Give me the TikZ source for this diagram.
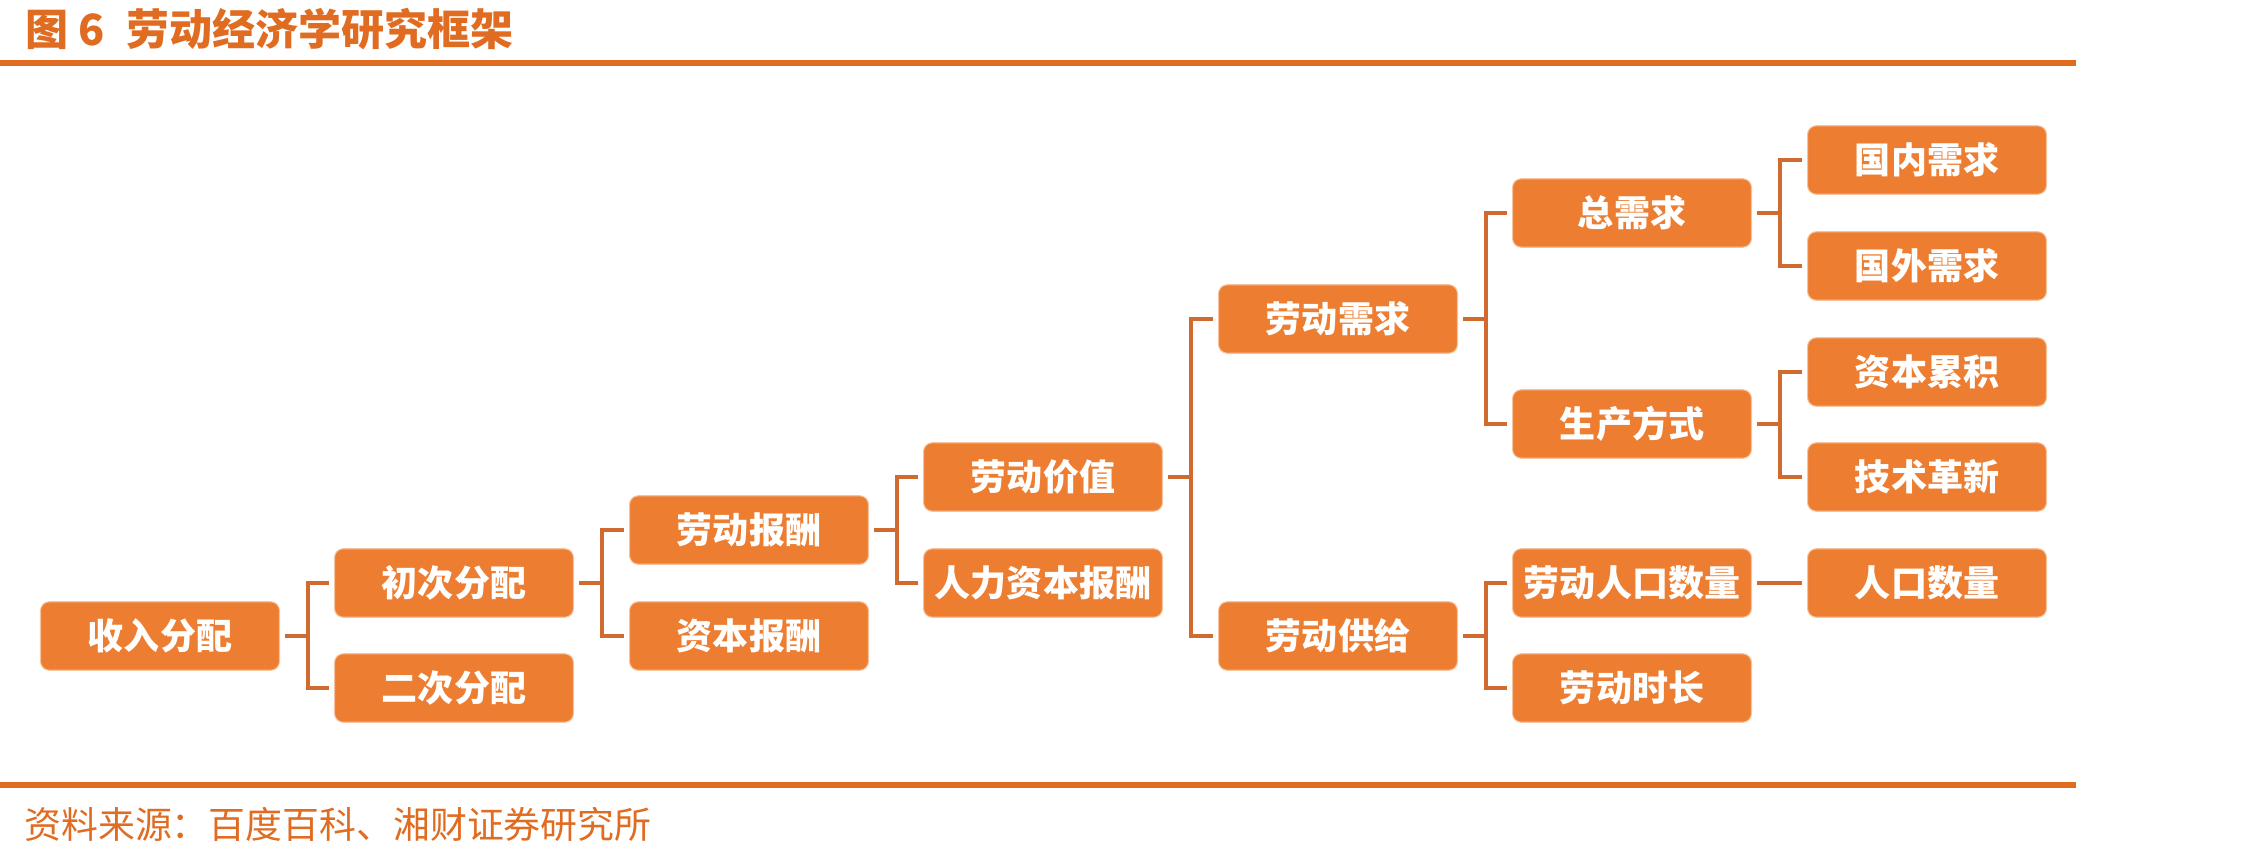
\documentclass[tikz,border=0pt]{standalone}
\usepackage{fontspec}
\newfontfamily\cjk{Noto Sans CJK SC}
\definecolor{boxorange}{HTML}{ED7D31}
\definecolor{linkorange}{HTML}{D06A2E}
\definecolor{titleorange}{HTML}{E06C22}
\definecolor{edgeorange}{HTML}{F6C29C}

\begin{document}
\begin{tikzpicture}[x=0.02cm, y=-0.02cm,
  box/.style={draw=edgeorange, line width=0.6pt, fill=boxorange, rounded corners=5pt,
    minimum width=4.78cm, minimum height=1.37cm, inner sep=0pt, text=white,
    font=\cjk\bfseries\fontsize{20.5}{24}\selectfont},
  link/.style={draw=linkorange, line width=2.4pt, shorten <=3pt, shorten >=3pt},
  rulebar/.style={draw=titleorange, line width=3.4pt}]

\useasboundingbox ( 0, 0 ) rectangle ( 2245, 853 );

% Title and rules
\node (title) at ( 25, 29 ) [anchor=west, inner sep=0pt, text=titleorange,
  font=\cjk\bfseries\fontsize{24.5}{28}\selectfont] {图 6\hspace{7pt} 劳动经济学研究框架};
\draw [rulebar] ( 0, 63 ) -- ( 2076, 63 );
\draw [rulebar] ( 0, 785 ) -- ( 2076, 785 );
\node (source) at ( 24, 824 ) [anchor=west, inner sep=0pt, text=titleorange,
  font=\cjk\fontsize{21}{25}\selectfont] {资料来源：百度百科、湘财证券研究所};

% Income distribution
\node (inc) at ( 160, 636 ) [box] {收入分配};
\node (pri) at ( 454, 583 ) [box] {初次分配};
\node (sec) at ( 454, 688 ) [box] {二次分配};

% Primary distribution
\node (lpay) at ( 749, 530 ) [box] {劳动报酬};
\node (kpay) at ( 749, 636 ) [box] {资本报酬};
\node (lval) at ( 1043, 477 ) [box] {劳动价值};
\node (hpay) at ( 1043, 583 ) [box] {人力资本报酬};

% Labour market
\node (ldem) at ( 1338, 319 ) [box] {劳动需求};
\node (lsup) at ( 1338, 636 ) [box] {劳动供给};

\node (agg) at ( 1632, 213 ) [box] {总需求};
\node (prod) at ( 1632, 424 ) [box] {生产方式};
\node (lpop) at ( 1632, 583 ) [box] {劳动人口数量};
\node (lhrs) at ( 1632, 688 ) [box] {劳动时长};

\node (dom) at ( 1927, 160 ) [box] {国内需求};
\node (frn) at ( 1927, 266 ) [box] {国外需求};
\node (kacc) at ( 1927, 372 ) [box] {资本累积};
\node (tech) at ( 1927, 477 ) [box] {技术革新};
\node (pop) at ( 1927, 583 ) [box] {人口数量};

% Brackets
\draw [link] (inc.east) -- ++( 27.75, 0 ) |- (pri.west);
\draw [link] (inc.east) -- ++( 27.75, 0 ) |- (sec.west);
\draw [link] (pri.east) -- ++( 27.75, 0 ) |- (lpay.west);
\draw [link] (pri.east) -- ++( 27.75, 0 ) |- (kpay.west);
\draw [link] (lpay.east) -- ++( 27.75, 0 ) |- (lval.west);
\draw [link] (lpay.east) -- ++( 27.75, 0 ) |- (hpay.west);
\draw [link] (lval.east) -- ++( 27.75, 0 ) |- (ldem.west);
\draw [link] (lval.east) -- ++( 27.75, 0 ) |- (lsup.west);
\draw [link] (ldem.east) -- ++( 27.75, 0 ) |- (agg.west);
\draw [link] (ldem.east) -- ++( 27.75, 0 ) |- (prod.west);
\draw [link] (lsup.east) -- ++( 27.75, 0 ) |- (lpop.west);
\draw [link] (lsup.east) -- ++( 27.75, 0 ) |- (lhrs.west);
\draw [link] (agg.east) -- ++( 27.75, 0 ) |- (dom.west);
\draw [link] (agg.east) -- ++( 27.75, 0 ) |- (frn.west);
\draw [link] (prod.east) -- ++( 27.75, 0 ) |- (kacc.west);
\draw [link] (prod.east) -- ++( 27.75, 0 ) |- (tech.west);
\draw [link] (lpop.east) -- (pop.west);

\end{tikzpicture}
\end{document}
